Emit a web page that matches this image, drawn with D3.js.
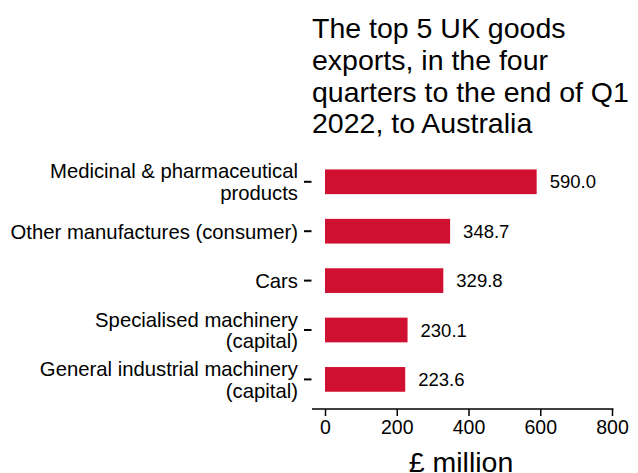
<!DOCTYPE html>
<html><head><meta charset="utf-8">
<script src="https://cdn.jsdelivr.net/npm/d3@7"></script>
<style>body{margin:0;background:#fff}svg{display:block}text{font-family:"Liberation Sans",Arial,sans-serif}</style>
</head><body><div id="chart"></div>
<script>
const categories = [
  ["Medicinal & pharmaceutical", "products"],
  ["Other manufactures (consumer)"],
  ["Cars"],
  ["Specialised machinery", "(capital)"],
  ["General industrial machinery", "(capital)"]
];
const values = [590.0, 348.7, 329.8, 230.1, 223.6];
const xTicks = [0, 200, 400, 600, 800];
const titleLines = ["The top 5 UK goods", "exports, in the four", "quarters to the end of Q1", "2022, to Australia"];
const xTitle = "£ million";

const W = 638, H = 473;
const svg = d3.select("#chart").append("svg").attr("width", W).attr("height", H);

const x = d3.scaleLinear().domain([0, 800]).range([325, 612]);
const y = d3.scaleBand().domain(d3.range(categories.length)).range([157.1, 404.1])
  .paddingInner(0.5).paddingOuter(0.25);

// title
const t = svg.append("text").attr("x", 312).attr("y", 38).attr("font-size", 28.5).attr("fill", "#000");
titleLines.forEach((l, i) => t.append("tspan").attr("x", 312).attr("y", 38.3 + i * 31.7).text(l));

// bars
svg.selectAll("rect.bar").data(values).join("rect").attr("class", "bar")
  .attr("x", x(0)).attr("y", (d, i) => y(i))
  .attr("width", d => x(d) - x(0)).attr("height", y.bandwidth())
  .attr("fill", "#cf1030");

// value labels
svg.selectAll("text.val").data(values).join("text").attr("class", "val")
  .attr("x", d => x(d) + 13).attr("y", (d, i) => y(i) + y.bandwidth() / 2)
  .attr("dy", "0.36em").attr("font-size", 18.5).attr("fill", "#000")
  .text(d => d3.format(".1f")(d));

// y axis ticks + labels
const yg = svg.append("g");
categories.forEach((lines, i) => {
  const cy = y(i) + y.bandwidth() / 2;
  yg.append("line").attr("x1", 304).attr("x2", 311.5).attr("y1", cy).attr("y2", cy)
    .attr("stroke", "#000").attr("stroke-width", 2);
  const lh = 21.6;
  const txt = yg.append("text").attr("text-anchor", "end").attr("font-size", 20.3).attr("fill", "#000");
  lines.forEach((l, j) => {
    txt.append("tspan").attr("x", 298)
      .attr("y", cy + (j - (lines.length - 1) / 2) * lh).attr("dy", "0.36em").text(l);
  });
});

// x axis
const axisY = 409;
const xg = svg.append("g").attr("transform", `translate(0,${axisY})`);
xg.call(d3.axisBottom(x).tickValues(xTicks).tickSize(7).tickPadding(4).tickFormat(d3.format("d")));
xg.select(".domain").remove();
xg.selectAll(".tick line").attr("stroke", "#000").attr("stroke-width", 1.5);
xg.selectAll(".tick text").attr("font-size", 19.5).attr("fill", "#000")
  .style("font-family", '"Liberation Sans",Arial,sans-serif');
svg.append("line").attr("x1", 312).attr("x2", 613.5).attr("y1", axisY).attr("y2", axisY)
  .attr("stroke", "#000").attr("stroke-width", 1.5);

svg.append("text").attr("x", 461).attr("y", 472).attr("text-anchor", "middle")
  .attr("font-size", 28.5).attr("fill", "#000").text(xTitle);
</script></body></html>
